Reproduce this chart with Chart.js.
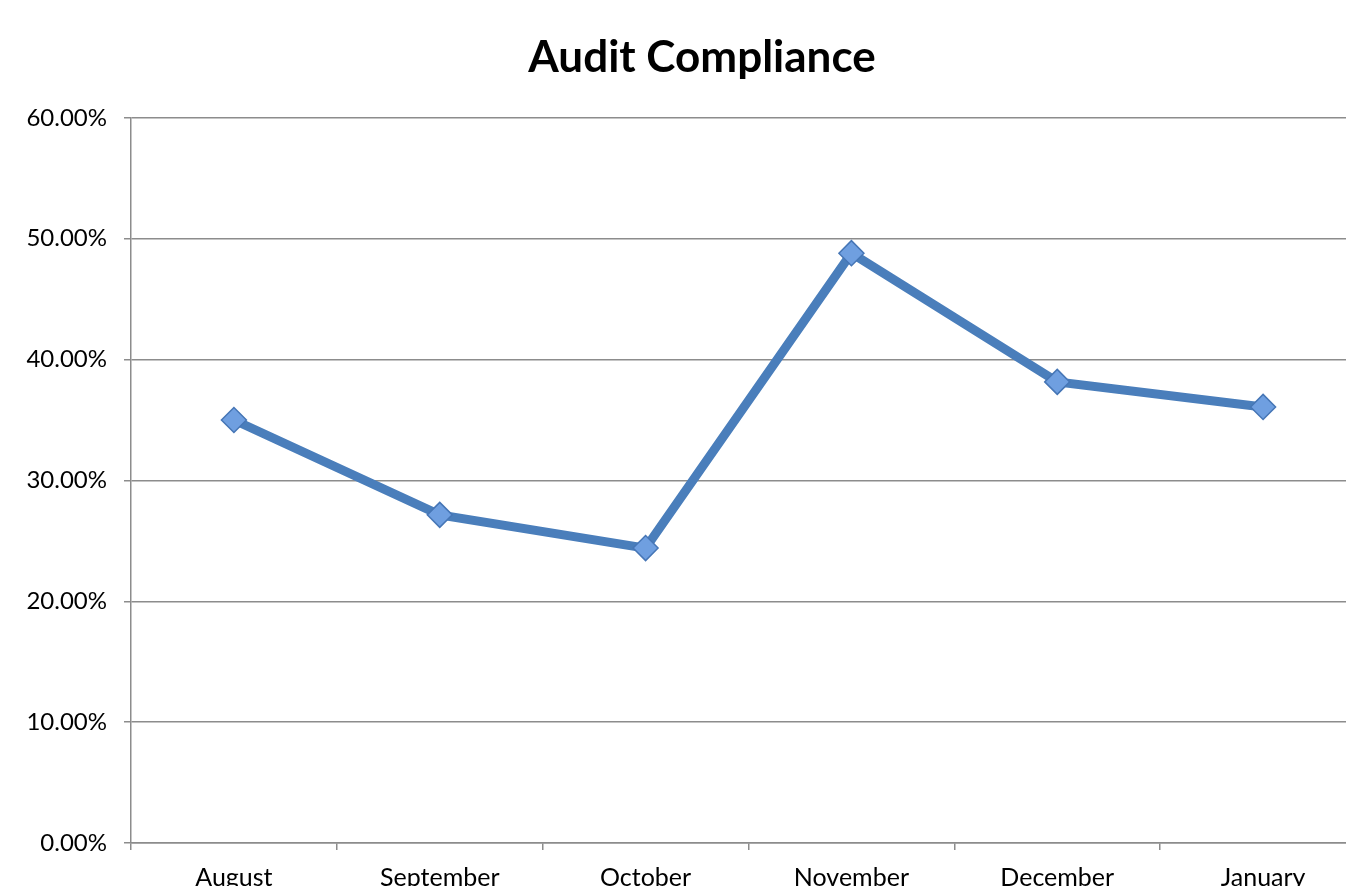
<!DOCTYPE html>
<html>
<head>
<meta charset="utf-8">
<title>Audit Compliance</title>
<script src="https://cdn.jsdelivr.net/npm/chart.js@4"></script>
<style>
    html, body { margin: 0; padding: 0; background: #fff; overflow: hidden; }
</style>
</head>
<body>
<canvas id="audit-chart" width="1404" height="900"></canvas>
<script>
// Chart data
const months = ['August', 'September', 'October', 'November', 'December', 'January'];
const compliance = [35.0, 27.15, 24.4, 48.8, 38.15, 36.08]; // percent
const yMin = 0;
const yMax = 60;
const yStep = 10;

const gridColor = '#8c8c8c';
const fontFamily = 'Lato, "Open Sans", sans-serif';

const ctx = document.getElementById('audit-chart').getContext('2d');

new Chart(ctx, {
    type: 'line',
    data: {
        labels: months,
        datasets: [
            {
                label: 'Audit Compliance',
                data: compliance,
                borderColor: '#4a7ebb',
                borderWidth: 9,
                pointStyle: 'rectRot',
                pointRadius: 12.5,
                pointBackgroundColor: '#6f9fe0',
                pointBorderColor: '#4676b6',
                pointBorderWidth: 1.5,
                tension: 0,
                fill: false
            }
        ]
    },
    options: {
        responsive: false,
        animation: false,
        layout: {
            padding: 0
        },
        plugins: {
            legend: { display: false },
            tooltip: { enabled: false },
            title: {
                display: true,
                text: 'Audit Compliance',
                color: '#000',
                font: { family: fontFamily, size: 44, weight: 'bold' },
                padding: { top: 31, bottom: 34 }
            }
        },
        scales: {
            x: {
                offset: true,
                grid: {
                    offset: true,
                    drawOnChartArea: false,
                    drawTicks: true,
                    tickLength: 7,
                    color: gridColor,
                    lineWidth: 1.5
                },
                border: { display: true, color: gridColor, width: 1.5 },
                ticks: {
                    color: '#000',
                    padding: 13,
                    maxRotation: 0,
                    font: { family: fontFamily, size: 25 }
                },
                afterFit: (scale) => { scale.height = 57; }
            },
            y: {
                min: yMin,
                max: yMax,
                grid: {
                    color: gridColor,
                    lineWidth: 1.5,
                    drawTicks: true,
                    tickLength: 7
                },
                border: { display: true, color: gridColor, width: 1.5 },
                ticks: {
                    stepSize: yStep,
                    color: '#000',
                    padding: 17,
                    font: { family: fontFamily, size: 24 },
                    callback: (value) => value.toFixed(2) + '%'
                },
                afterFit: (scale) => { scale.width = 131; }
            },
            // empty strip on the right: the picture is cropped before the plot ends
            spacer: {
                type: 'linear',
                position: 'right',
                display: true,
                grid: { display: false },
                border: { display: false },
                ticks: { display: false },
                afterFit: (scale) => { scale.width = 38; }
            }
        }
    }
});
</script>
</body>
</html>
